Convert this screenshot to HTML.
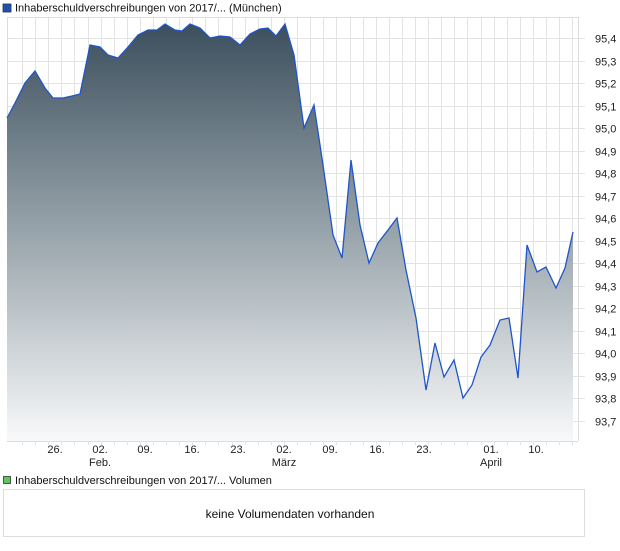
<!DOCTYPE html>
<html><head><meta charset="utf-8"><style>
body{margin:0;background:#fff;width:620px;height:546px;overflow:hidden;font-family:"Liberation Sans",sans-serif;}
</style></head><body>
<svg width="620" height="546" xmlns="http://www.w3.org/2000/svg" font-family="Liberation Sans, sans-serif">
<defs>
<linearGradient id="g" x1="0" y1="0" x2="0" y2="1">
<stop offset="0" stop-color="#3c4f5d"/><stop offset="0.5" stop-color="#98a4ab"/><stop offset="1" stop-color="#f8f9fa"/>
</linearGradient>
</defs>
<rect x="3" y="4" width="8" height="8" fill="#1f4fb4" stroke="#333" stroke-width="0.8"/>
<text x="15" y="11.5" font-size="11" fill="#111">Inhaberschuldverschreibungen von 2017/... (München)</text>
<g stroke="#dcdcdc" stroke-width="1">
<line x1="7" y1="17.5" x2="578" y2="17.5"/>
<line x1="7" y1="441.5" x2="578" y2="441.5"/>
<line x1="7.5" y1="17" x2="7.5" y2="441"/>
<line x1="578.5" y1="17" x2="578.5" y2="441"/>
</g>
<g stroke="#e3e3e3" stroke-width="1" id="grid"></g>
<path id="area" fill="url(#g)"/>
<polyline id="line" fill="none" stroke="#1f55c8" stroke-width="1.3"/>
<g font-size="11" fill="#222" id="ylab"></g>
<g font-size="11" fill="#222" text-anchor="middle">
<text x="55" y="453">26.</text><text x="100" y="453">02.</text><text x="145" y="453">09.</text><text x="192" y="453">16.</text><text x="238" y="453">23.</text><text x="284" y="453">02.</text><text x="330" y="453">09.</text><text x="377" y="453">16.</text><text x="424" y="453">23.</text><text x="491" y="453">01.</text><text x="536" y="453">10.</text>
<text x="100" y="466">Feb.</text><text x="284" y="466">März</text><text x="491" y="466">April</text>
</g>
<rect x="3.5" y="476.5" width="7" height="7" fill="#5cc85c" stroke="#333" stroke-width="0.8"/>
<text x="15" y="484" font-size="11" fill="#111">Inhaberschuldverschreibungen von 2017/... Volumen</text>
<rect x="3.5" y="489.5" width="581" height="47" fill="#fff" stroke="#ddd"/>
<text x="290" y="518" font-size="12" fill="#111" text-anchor="middle">keine Volumendaten vorhanden</text>
</svg>
<script>
var pts=[[7,118],[15,103],[25,83],[35,71],[45,88],[53,98],[63,98],[72,96],[80,94],[90,45],[100,47],[108,55],[118,58],[128,47],[138,35],[148,30],[157,30],[165,24],[175,30],[182,31],[190,24],[200,28],[210,38],[220,36],[230,37],[240,45],[250,34],[260,29],[268,28],[276,36],[285,24],[294,55],[304,128],[314,105],[323,165],[333,235],[342,258],[351,160],[360,225],[369,263],[378,243],[388,230],[397,218],[406,270],[416,318],[426,390],[435,343],[444,377],[454,360],[463,398],[472,385],[481,357],[490,345],[500,320],[509,318],[518,378],[527,245],[537,272],[546,267],[556,288],[565,268],[573,232]];
var s=pts.map(p=>p.join(',')).join(' ');
document.getElementById('line').setAttribute('points',s);
document.getElementById('area').setAttribute('d','M7,441 L'+pts.map(p=>p.join(',')).join(' L')+' L573,441 Z');
var g=document.getElementById('grid'),yl=document.getElementById('ylab'),ns='http://www.w3.org/2000/svg';
for(var i=0;i<=17;i++){var v=95.4-i*0.1,y=Math.round(38+i*22.53)+0.5;
var l=document.createElementNS(ns,'line');l.setAttribute('x1',8);l.setAttribute('x2',585);l.setAttribute('y1',y);l.setAttribute('y2',y);g.appendChild(l);
var t=document.createElementNS(ns,'text');t.setAttribute('x',595);t.setAttribute('y',y+4);t.textContent=v.toFixed(1).replace('.',',');yl.appendChild(t);}
for(var x=22;x<578;x+=13.1){var l=document.createElementNS(ns,'line');var xx=Math.round(x)+0.5;l.setAttribute('x1',xx);l.setAttribute('x2',xx);l.setAttribute('y1',18);l.setAttribute('y2',445);g.appendChild(l);}
</script>
</body></html>
